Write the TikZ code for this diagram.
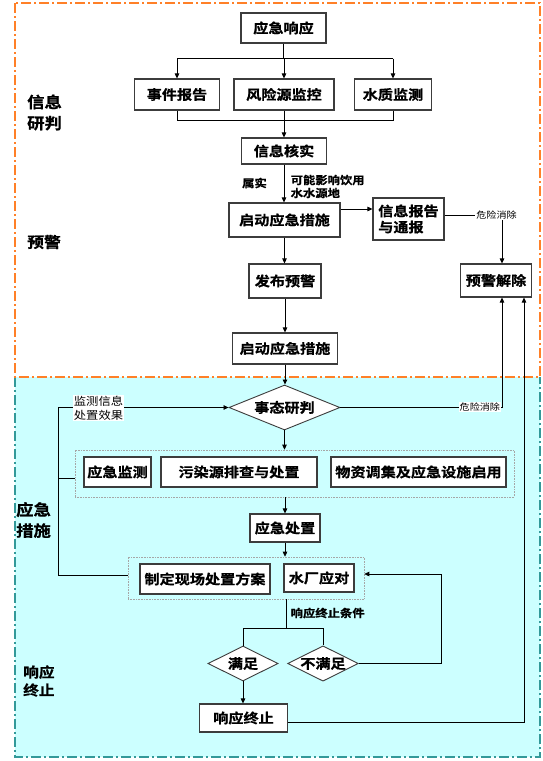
\documentclass[tikz,border=0pt]{standalone}
\usepackage{fontspec}
\setmainfont{Noto Sans CJK SC}[BoldFont={* Bold},BoldFeatures={FakeBold=0.8},FakeStretch=1.12]
\usetikzlibrary{arrows.meta,shapes.geometric}
\definecolor{cyanbg}{RGB}{204,255,255}
\definecolor{orng}{RGB}{255,128,40}
\definecolor{tealb}{RGB}{51,153,153}
\definecolor{boxline}{RGB}{60,60,60}
\tikzset{
  box/.style={draw=boxline,line width=1.1pt,fill=white,inner sep=0pt,align=center,
    font=\bfseries\fontsize{13.5}{16}\selectfont},
  dia/.style={diamond,draw=boxline,line width=0.9pt,fill=white,inner sep=0pt,
    font=\bfseries\fontsize{13.5}{16}\selectfont},
  grp/.style={draw=gray!70,densely dotted,line width=0.6pt,inner sep=0pt},
  side/.style={align=left,inner sep=0pt,font=\bfseries\fontsize{15.5}{21}\selectfont},
  lab/.style={inner sep=0.5pt,align=left,font=\bfseries\fontsize{11}{13}\selectfont},
  rlab/.style={inner sep=0.5pt,fill=white,align=left,font=\fontsize{11}{14}\selectfont},
  slab/.style={inner sep=0.8pt,fill=white,font=\fontsize{9}{11}\selectfont},
  conn/.style={line width=0.8pt,black},
  arr/.style={conn,-{Triangle[length=5pt,width=4.5pt]}},
  odash/.style={draw=orng,line width=1.3pt,dash pattern=on 10pt off 3pt on 2pt off 3pt},
  tdash/.style={draw=tealb,line width=1.3pt,dash pattern=on 10pt off 3pt on 2pt off 3pt},
}
\begin{document}
\begin{tikzpicture}[x=1pt,y=-1pt]
\useasboundingbox (0,0) rectangle (543,761);
% regions
\fill[cyanbg] (15,377) rectangle (540,757);
\draw[tdash] (15,377) -- (15,757) -- (540,757) -- (540,377);
\draw[odash] (15,3) rectangle (540,377);

% side labels
\node[side,anchor=west] (L1) at (27,112.5) {信息\\研判};
\node[side,anchor=west,font=\bfseries\fontsize{15}{20}\selectfont] (L2) at (27,242) {预警};
\node[side,anchor=west] (L3) at (16,520) {应急\\措施};
\node[side,anchor=west,font=\bfseries\fontsize{14}{18}\selectfont] (L4) at (23,681) {响应\\终止};

% top part
\node[box,minimum width=85pt,minimum height=30pt] (r1) at (283.5,28) {应急响应};
\node[box,minimum width=85.5pt,minimum height=31pt] (a1) at (177,94.5) {事件报告};
\node[box,minimum width=100pt,minimum height=31pt] (a2) at (284,94.5) {风险源监控};
\node[box,minimum width=77pt,minimum height=31pt] (a3) at (393,94.5) {水质监测};
\node[box,minimum width=85pt,minimum height=26pt] (v) at (284,151) {信息核实};
\node[box,minimum width=111pt,minimum height=34pt] (s1) at (284.5,220) {启动应急措施};
\node[box,minimum width=71pt,minimum height=42pt,align=left] (n1) at (408.5,219) {信息报告\\与通报};
\node[box,minimum width=72pt,minimum height=34pt] (f) at (285,281) {发布预警};
\node[box,minimum width=70.5pt,minimum height=33pt] (w) at (496,280.5) {预警解除};
\node[box,minimum width=105.5pt,minimum height=31pt] (s2) at (285,348.5) {启动应急措施};

\coordinate (fy) at (0,58.7);
\coordinate (my) at (0,120);
\draw[conn] (r1.south) -- (r1.south |- fy);
\draw[conn] (a1.north |- fy) -- (a3.north |- fy);
\draw[arr] (a1.north |- fy) -- (a1.north);
\draw[arr] (a2.north |- fy) -- (a2.north);
\draw[arr] (a3.north |- fy) -- (a3.north);
\draw[conn] (a1.south) -- (a1.south |- my) -- (a3.south |- my) -- (a3.south);
\draw[arr] (a2.south) -- (a2.south |- v.north);
\draw[arr] (v.south) -- (v.south |- s1.north);
\node[lab] (k0) at (254.5,183) {属实};
\node[lab,anchor=west] (k0b) at (290,186.5) {可能影响饮用\\水水源地};
\draw[arr] ([yshift=11pt]s1.east) -- ([yshift=11pt]s1.east -| n1.west);
\draw[arr] (s1.south) -- (s1.south |- f.north);
\draw[arr] (f.south) -- (f.south |- s2.north);

\coordinate (wt) at ([xshift=6pt]w.north);
\coordinate (wb1) at ([xshift=6pt]w.south);
\coordinate (wb2) at ([xshift=28pt]w.south);
\node[slab] (k1) at (496.5,215) {危险消除};
\draw[conn] ([yshift=4pt]n1.east) -- (k1.west);
\draw[arr] (k1.south -| wt) -- (wt);

% lower part
\node[dia,minimum width=111pt,minimum height=45pt,aspect=2.47] (d) at (284.5,407.5) {事态研判};
\draw[arr] (s2.south) -- (s2.south |- d.north);

\node[grp,minimum width=439pt,minimum height=47pt] (g1) at (294.5,473.5) {};
\node[box,minimum width=67pt,minimum height=30pt] (b1) at (117.5,472) {应急监测};
\node[box,minimum width=156pt,minimum height=30pt] (b2) at (239,472) {污染源排查与处置};
\node[box,minimum width=175pt,minimum height=30pt] (b3) at (418.5,472) {物资调集及应急设施启用};
\draw[arr] (d.south) -- (d.south |- g1.north);

\node[box,minimum width=70pt,minimum height=28pt] (e) at (285,528) {应急处置};
\draw[arr] (e.north |- g1.south) -- (e.north);

\node[grp,minimum width=236pt,minimum height=42pt] (g2) at (246,578) {};
\node[box,minimum width=130pt,minimum height=30pt] (c1) at (205,579) {制定现场处置方案};
\node[box,minimum width=70pt,minimum height=28pt] (c2) at (319,578) {水厂应对};
\draw[arr] (e.south) -- (e.south |- g2.north);

% left feedback loop
\coordinate (lx) at (58,407.5);
\draw[arr] ([yshift=3pt]g2.west) -| (lx) -- (d.west);
\draw[conn] ([yshift=-4.5pt]g1.west) -- ([yshift=-4.5pt]g1.west -| lx);
\node[rlab] (k3) at (98.5,408) {监测信息\\处置效果};

% right: danger removed
\draw[arr] (d.east) -- (d.east -| wb1) -- (wb1);
\node[slab,anchor=east] (k2) at (501,407) {危险消除};

% termination conditions
\node[dia,minimum width=70pt,minimum height=35pt,aspect=2] (m1) at (243,663.5) {满足};
\node[dia,minimum width=70pt,minimum height=35pt,aspect=2] (m2) at (323,663.5) {不满足};
\coordinate (j) at (286.5,628);
\draw[conn] ([xshift=40.5pt]g2.south) -- (j);
\draw[conn] (m1.north) -- (m1.north |- j) -- (m2.north |- j) -- (m2.north);
\node[lab,anchor=west] (k4) at (290,613) {响应终止条件};
\node[box,minimum width=88pt,minimum height=28pt] (t) at (243.5,718) {响应终止};
\draw[arr] (m1.south) -- (m1.south |- t.north);
\coordinate (rx) at (441,663.5);
\draw[arr] (m2.east) -- (rx) |- ([yshift=4pt]g2.east);
\draw[arr] ([yshift=-4pt]t.east) -- ([yshift=-4pt]t.east -| wb2) -- (wb2);
\end{tikzpicture}
\end{document}
